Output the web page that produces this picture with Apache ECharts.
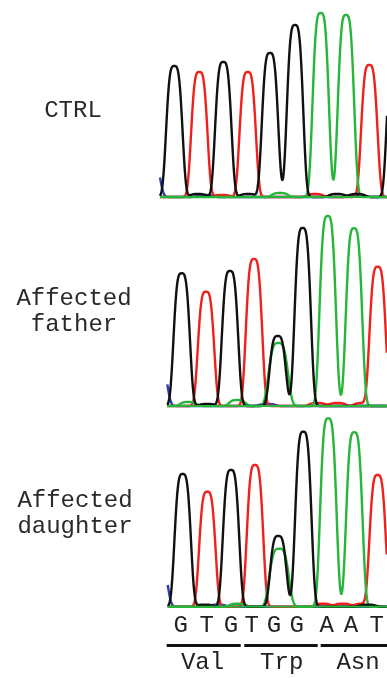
<!DOCTYPE html>
<html>
<head>
<meta charset="utf-8">
<script src="https://cdn.jsdelivr.net/npm/echarts@6/dist/echarts.min.js"></script>
<style>
  html, body { margin: 0; padding: 0; background: #fff; }
  #chart { width: 387px; height: 678px; }
</style>
</head>
<body>
<div id="chart"></div>
<script>
// Peaks: [position along panel, height, (width)], one list per dye.
// A = green, C = blue, G = black, T = red
const ctrlA = [[160.7, 184], [186, 182], [120, 4]];
const ctrlC = [[-8, 36], [45, 2], [197, 2]];
const ctrlG = [[14.3, 131], [63.3, 135], [110, 144], [135, 172], [235, 150], [38, 3], [88, 3], [177, 3], [197, 3]];
const ctrlT = [[39.3, 125], [87.7, 125], [209.3, 132], [62, 2], [155, 3]];

const fatherA = [[111, 63, 11], [160.4, 190], [186.7, 177.7], [21, 4], [70, 6]];
const fatherC = [[-8, 40], [100, 2]];
const fatherG = [[14.4, 132.7], [62.7, 135], [110.4, 70], [135.4, 178], [236, 150], [40, 2]];
const fatherT = [[38.7, 114.3], [86.7, 147], [210.4, 139.3], [150, 3], [170, 3], [195, 3]];

const daughterA = [[111.4, 58, 11], [160.6, 188.4], [186.6, 174.4], [70, 3]];
const daughterC = [[-8, 40], [50, 2]];
const daughterG = [[15, 132.7], [63.3, 136.7], [110.6, 70.7], [135.6, 175], [236, 150], [37, 2], [200, 2]];
const daughterT = [[39.6, 115], [87.3, 141.7], [210, 131.7], [155, 3], [175, 3], [195, 3]];

const panelLabels = ['CTRL', 'Affected\nfather', 'Affected\ndaughter'];

const bases = ['G', 'T', 'G', 'T', 'G', 'G', 'A', 'A', 'T'];
const basePos = [13, 39, 63.3, 84, 106.3, 129, 159, 183.3, 209];
const codons = ['Val', 'Trp', 'Asn'];
const codonPos = [34.8, 114, 190.3];
const codonSpan = [[-1, 73], [76.6, 150], [153, 225]];

const FONT = "'Courier New', 'Liberation Mono', monospace";
const colors = { A: '#27b53a', C: '#2a3db5', G: '#111111', T: '#f0201c' };

const panels = [
  { left: 160, top: 7, width: 227, dyes: { C: ctrlC, T: ctrlT, G: ctrlG, A: ctrlA } },
  { left: 167.3, top: 216, width: 219.7, dyes: { C: fatherC, T: fatherT, G: fatherG, A: fatherA } },
  { left: 167.7, top: 416.7, width: 219.3, dyes: { C: daughterC, T: daughterT, G: daughterG, A: daughterA } }
];
const H = 190;
const PEAK_W = 9.2;

const chart = echarts.init(document.getElementById('chart'));

// draws the whole dye channel once (summed peak shapes) through the axis scale
function traceRender(peaks, color, xMax) {
  return function (params, api) {
    if (params.dataIndex !== 0) return;
    const pts = [];
    for (let x = 0; x <= xMax; x += 0.5) {
      let y = 0;
      peaks.forEach(p => {
        const d = Math.abs(x - p[0]) / (p[2] || PEAK_W);
        y += p[1] * Math.exp(-Math.pow(d, 3.5));
      });
      pts.push(api.coord([x, y]));
    }
    return {
      type: 'polyline',
      silent: true,
      shape: { points: pts },
      style: { stroke: color, lineWidth: 2.4, fill: null, lineJoin: 'round' }
    };
  };
}

function textRender(labels, size) {
  return function (params, api) {
    const pt = api.coord([api.value(0), api.value(1)]);
    return {
      type: 'text',
      x: pt[0],
      y: pt[1],
      style: {
        text: labels[params.dataIndex],
        align: 'center',
        verticalAlign: 'middle',
        fontSize: size,
        fontFamily: FONT,
        fill: '#222'
      }
    };
  };
}

const grid = [];
const xAxis = [];
const yAxis = [];
const series = [];

panels.forEach((p, i) => {
  grid.push({ left: p.left, top: p.top, width: p.width, height: H });
  xAxis.push({ type: 'value', gridIndex: i, min: 0, max: p.width, show: false });
  yAxis.push({ type: 'value', gridIndex: i, min: 0, max: H, show: false });
  ['C', 'T', 'A', 'G'].forEach(k => {
    series.push({
      type: 'custom',
      xAxisIndex: i,
      yAxisIndex: i,
      data: p.dyes[k],
      renderItem: traceRender(p.dyes[k], colors[k], p.width),
      silent: true,
      animation: false
    });
  });
  // green baseline on top, as in the reference
  series.push({
    type: 'line', xAxisIndex: i, yAxisIndex: i, silent: true, animation: false,
    symbol: 'none',
    data: [[0, 0], [p.width, 0]],
    lineStyle: { color: colors.A, width: 2 }
  });
});

// bottom strip: bases, codon bars, amino acids
grid.push({ left: 157.7, top: 612, width: 229.3, height: 66 });
xAxis.push({ type: 'value', gridIndex: 3, min: -10, max: 219.3, show: false });
yAxis.push({ type: 'value', gridIndex: 3, min: 0, max: 66, inverse: true, show: false });

series.push({
  type: 'custom', xAxisIndex: 3, yAxisIndex: 3, silent: true, animation: false,
  data: basePos.map(x => [x, 13.5]),
  renderItem: textRender(bases, 24)
});
series.push({
  type: 'custom', xAxisIndex: 3, yAxisIndex: 3, silent: true, animation: false,
  data: codonPos.map(x => [x, 51]),
  renderItem: textRender(codons, 24)
});
codonSpan.forEach(s => {
  series.push({
    type: 'line', xAxisIndex: 3, yAxisIndex: 3, silent: true, animation: false,
    symbol: 'none',
    data: [[s[0], 33.5], [s[1], 33.5]],
    lineStyle: { color: '#111', width: 3 }
  });
});

const labelY = [111, 311.8, 513.7];
const labelX = [73, 74, 75];

chart.setOption({
  backgroundColor: '#fff',
  animation: false,
  grid: grid,
  xAxis: xAxis,
  yAxis: yAxis,
  graphic: panelLabels.map((t, i) => ({
    type: 'text',
    x: labelX[i],
    y: labelY[i],
    style: {
      text: t,
      align: 'center',
      verticalAlign: 'middle',
      fontSize: 24,
      lineHeight: 26.5,
      fontFamily: FONT,
      fill: '#2a2a2a'
    }
  })),
  series: series
});
</script>
</body>
</html>
